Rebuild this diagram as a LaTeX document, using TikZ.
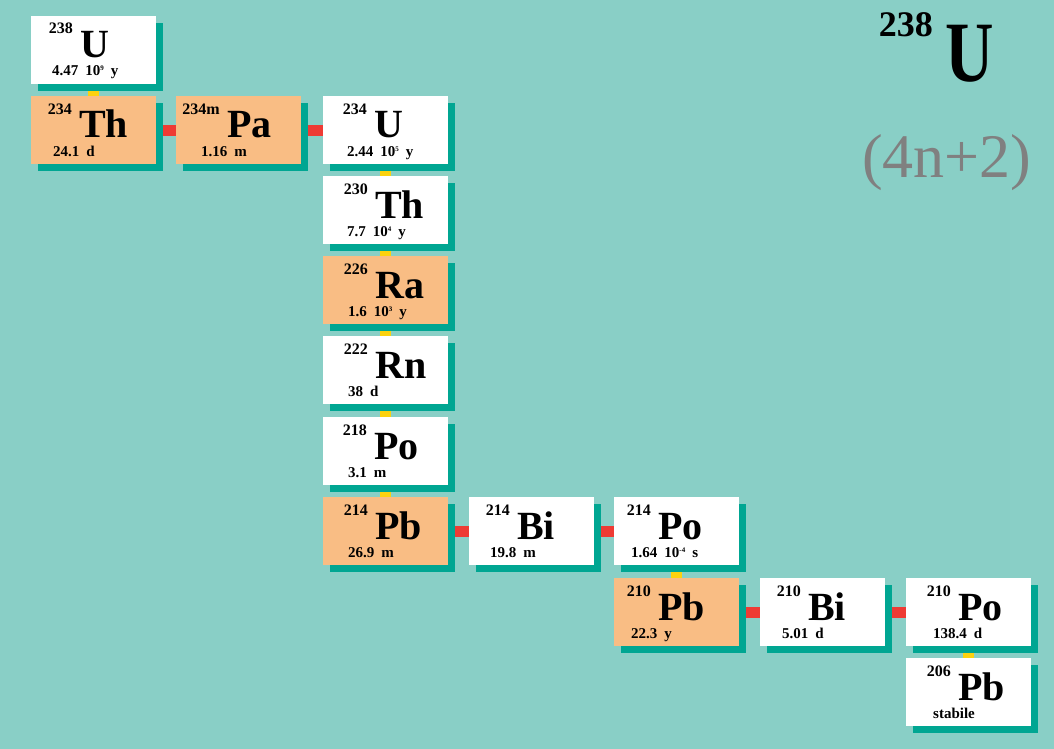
\documentclass[tikz,border=0pt]{standalone}
\usepackage{fontspec}
\usepackage{graphicx}
\setmainfont{Liberation Serif}
\usetikzlibrary{shadows}
\definecolor{bgc}{HTML}{89CFC6}
\definecolor{shadowc}{HTML}{00A692}
\definecolor{orangec}{HTML}{F9BD84}
\definecolor{redc}{HTML}{EE3B34}
\definecolor{yellowc}{HTML}{FCD20E}
\definecolor{grayc}{HTML}{808080}
\pgfdeclarelayer{back}
\pgfdeclarelayer{conn}
\pgfsetlayers{back,conn,main}
\newcommand\hs{\hspace{7pt}}
\newcommand\ex[1]{\raisebox{5pt}{\fontsize{7}{7}\selectfont #1}}
\tikzset{
  isobox/.style={draw=none, minimum width=125pt, minimum height=68pt, inner sep=0pt,
    anchor=north west,
    drop shadow={shadow xshift=7pt, shadow yshift=-7pt, opacity=1, fill=shadowc}},
  wbox/.style={isobox, fill=white},
  obox/.style={isobox, fill=orangec},
  masstxt/.style={inner sep=0pt, anchor=base east, text depth=0pt, font=\bfseries\fontsize{16}{16}\selectfont},
  symtxt/.style={inner sep=0pt, anchor=base west, text depth=0pt, text height=28pt, font=\bfseries\fontsize{40}{40}\selectfont},
  hltxt/.style={inner sep=0pt, anchor=base west, text height=10pt, font=\bfseries\fontsize{15}{15}\selectfont},
  alphalink/.style={draw=yellowc, line width=11pt},
  betalink/.style={draw=redc, line width=11pt}
}
% id, x, y, style, mass, symbol, symbol offset, half-life, half-life offset
\newcommand\iso[9]{%
  \node[#4] (#1) at (#2,#3) {};
  \node[symtxt] (#1s) at ([shift={(#7,42)}]#1.north west) {#6};
  \node[masstxt] (#1m) at ([shift={(#7-7,18)}]#1.north west) {#5};
  \node[hltxt] (#1h) at ([shift={(#9,60)}]#1.north west) {#8};
}
\begin{document}
\begin{tikzpicture}[x=1pt,y=-1pt]
\begin{pgfonlayer}{back}
  \fill[bgc] (0,0) rectangle (1054,749);
\end{pgfonlayer}
\useasboundingbox (0,0) rectangle (1054,749);

\iso{b1}{31}{16}{wbox}{238}{U}{49}{4.47\hs 10\ex{9}\hs y}{21}
\iso{b2}{31}{96}{obox}{234}{Th}{48}{24.1\hs d}{22}
\iso{b3}{176}{96}{obox}{234m}{Pa}{51}{1.16\hs m}{25}
\iso{b4}{323}{96}{wbox}{234}{U}{51}{2.44\hs 10\ex{5}\hs y}{24}
\iso{b5}{323}{176}{wbox}{230}{Th}{52}{7.7\hs 10\ex{4}\hs y}{24}
\iso{b6}{323}{256}{obox}{226}{Ra}{52}{1.6\hs 10\ex{3}\hs y}{25}
\iso{b7}{323}{336}{wbox}{222}{Rn}{52}{38\hs d}{25}
\iso{b8}{323}{417}{wbox}{218}{Po}{51}{3.1\hs m}{25}
\iso{b9}{323}{497}{obox}{214}{Pb}{52}{26.9\hs m}{25}
\iso{b10}{469}{497}{wbox}{214}{Bi}{48}{19.8\hs m}{21}
\iso{b11}{614}{497}{wbox}{214}{Po}{44}{1.64\hs 10\ex{-4}\hs s}{17}
\iso{b12}{614}{578}{obox}{210}{Pb}{44}{22.3\hs y}{17}
\iso{b13}{760}{578}{wbox}{210}{Bi}{48}{5.01\hs d}{22}
\iso{b14}{906}{578}{wbox}{210}{Po}{52}{138.4\hs d}{27}
\iso{b15}{906}{658}{wbox}{206}{Pb}{52}{stabile}{27}

\begin{pgfonlayer}{conn}
  \draw[alphalink] (b1.south) -- (b2.north);
  \draw[alphalink] (b4.south) -- (b5.north);
  \draw[alphalink] (b5.south) -- (b6.north);
  \draw[alphalink] (b6.south) -- (b7.north);
  \draw[alphalink] (b7.south) -- (b8.north);
  \draw[alphalink] (b8.south) -- (b9.north);
  \draw[alphalink] (b11.south) -- (b12.north);
  \draw[alphalink] (b14.south) -- (b15.north);
  \draw[betalink] (b2.east) -- (b3.west);
  \draw[betalink] (b3.east) -- (b4.west);
  \draw[betalink] (b9.east) -- (b10.west);
  \draw[betalink] (b10.east) -- (b11.west);
  \draw[betalink] (b12.east) -- (b13.west);
  \draw[betalink] (b13.east) -- (b14.west);
\end{pgfonlayer}

\node[anchor=base east, inner sep=0pt, font=\bfseries\fontsize{36}{36}\selectfont] (bigm) at (933,37) {238};
\node[anchor=base west, inner sep=0pt, font=\bfseries\fontsize{86}{86}\selectfont] (bigU) at (945,82) {\scalebox{0.78}[1]{U}};
\node[anchor=base west, inner sep=0pt, text=grayc, font=\fontsize{62}{62}\selectfont] (series) at (862,177) {(4n+2)};
\end{tikzpicture}
\end{document}
